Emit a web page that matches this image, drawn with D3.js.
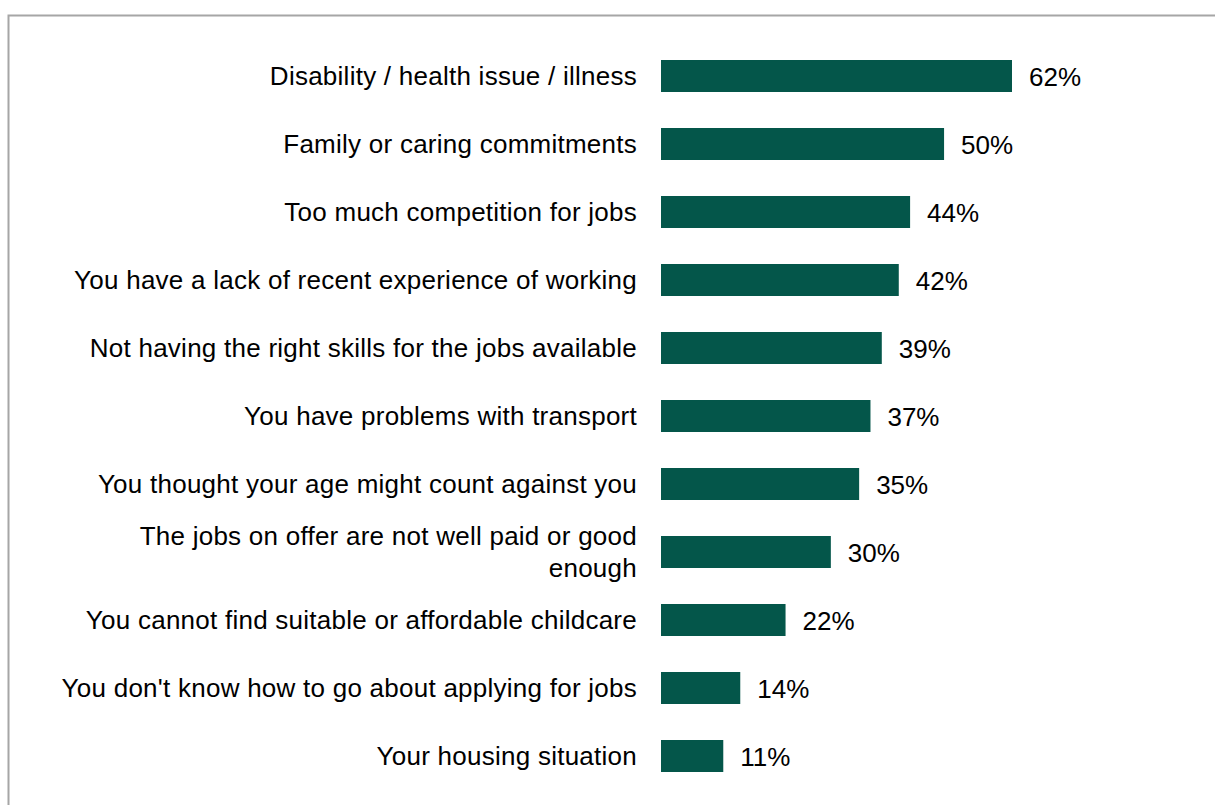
<!DOCTYPE html>
<html>
<head>
<meta charset="utf-8">
<script src="https://cdn.jsdelivr.net/npm/d3@7"></script>
<style>
  html, body { margin: 0; padding: 0; background: #fff; }
  svg { display: block; }
  text { font-family: "Liberation Sans", Arial, sans-serif; fill: #000; }
</style>
</head>
<body>
<svg id="chart" width="1215" height="805"></svg>
<script>
// Reasons given as barriers to work (% of respondents)
const categories = [
  "Disability / health issue / illness",
  "Family or caring commitments",
  "Too much competition for jobs",
  "You have a lack of recent experience of working",
  "Not having the right skills for the jobs available",
  "You have problems with transport",
  "You thought your age might count against you",
  "The jobs on offer are not well paid or good enough",
  "You cannot find suitable or affordable childcare",
  "You don't know how to go about applying for jobs",
  "Your housing situation"
];
const values = [62, 50, 44, 42, 39, 37, 35, 30, 22, 14, 11];

// Long category names are split onto two lines
const wrappedLabels = {
  "The jobs on offer are not well paid or good enough": ["The jobs on offer are not well paid or good", "enough"]
};

const svg = d3.select("#chart");
const W = 1215, H = 805;

// Outer frame (top and left edges visible)
svg.append("rect")
  .attr("x", 8.5).attr("y", 15.5)
  .attr("width", W + 20).attr("height", H + 20)
  .attr("fill", "none")
  .attr("stroke", "#a6a6a6")
  .attr("stroke-width", 2);

const barX0 = 661;
const x = d3.scaleLinear().domain([0, 62]).range([barX0, barX0 + 351]);
const y = d3.scaleBand()
  .domain(categories)
  .range([42, 42 + 68 * categories.length])
  .paddingInner(36 / 68)
  .paddingOuter(18 / 68);

const barColor = "#04564a";
const fontSize = 26;

const rows = svg.append("g").selectAll("g")
  .data(categories.map((c, i) => ({ cat: c, val: values[i] })))
  .join("g");

rows.append("rect")
  .attr("x", x(0))
  .attr("y", d => y(d.cat))
  .attr("width", d => x(d.val) - x(0))
  .attr("height", y.bandwidth())
  .attr("fill", barColor);

// Value labels at the bar ends
rows.append("text")
  .attr("x", d => x(d.val) + 17)
  .attr("y", d => y(d.cat) + y.bandwidth() / 2)
  .attr("dy", "0.37em")
  .attr("font-size", fontSize)
  .text(d => d.val + "%");

// Category labels, right-aligned before the bars
rows.each(function(d) {
  const lines = wrappedLabels[d.cat] || [d.cat];
  const lh = 31.5;
  const cy = y(d.cat) + y.bandwidth() / 2;
  const t = d3.select(this).append("text")
    .attr("text-anchor", "end")
    .attr("font-size", fontSize)
    .attr("letter-spacing", "0.25px");
  lines.forEach((ln, i) => {
    t.append("tspan")
      .attr("x", 637)
      .attr("y", cy + (i - (lines.length - 1) / 2) * lh)
      .attr("dy", "0.34em")
      .text(ln);
  });
});
</script>
</body>
</html>
